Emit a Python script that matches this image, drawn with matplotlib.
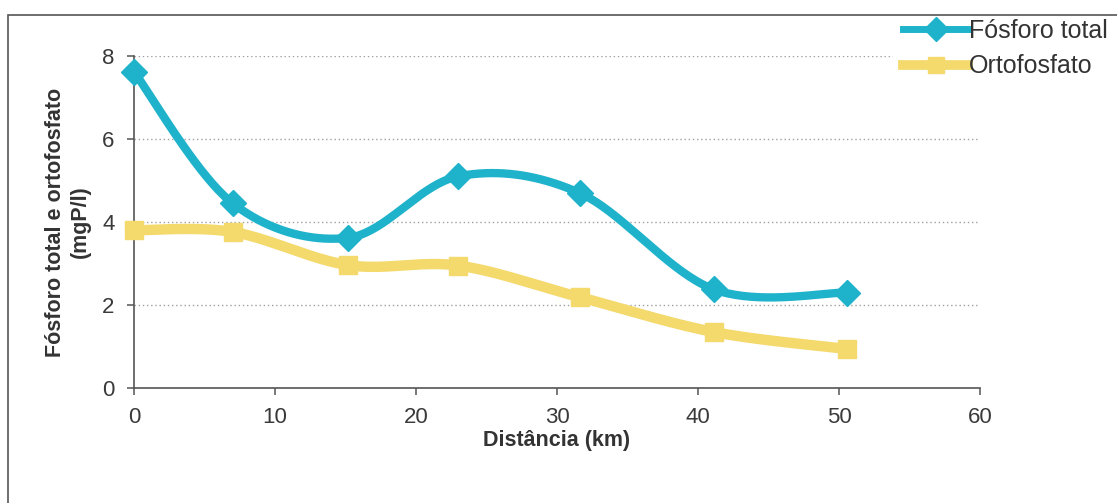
import numpy as np
import matplotlib
matplotlib.use("Agg")
import matplotlib.pyplot as plt
from matplotlib.patches import Rectangle
from matplotlib.lines import Line2D

plt.rcParams['font.family'] = ['Liberation Sans', 'DejaVu Sans']

# Sampling points along the river
distancia_km = [0.0, 7.0, 15.2, 23.0, 31.6, 41.1, 50.6]
fosforo_total = [7.62, 4.45, 3.62, 5.10, 4.70, 2.38, 2.30]
ortofosfato = [3.80, 3.76, 2.96, 2.95, 2.19, 1.35, 0.94]

x_ticks = [0, 10, 20, 30, 40, 50, 60]
y_ticks = [0, 2, 4, 6, 8]

COR_FT = '#1fb3cb'
COR_OF = '#f4d96c'


def smooth_curve(x, y, n=40, tension=1.0 / 6.0):
    """Bezier smoothing through every point (cardinal spline)."""
    x = np.asarray(x, float)
    y = np.asarray(y, float)
    px = np.concatenate([[x[0]], x, [x[-1]]])
    py = np.concatenate([[y[0]], y, [y[-1]]])
    xs, ys = [], []
    t = np.linspace(0, 1, n)
    for i in range(1, len(px) - 2):
        p0 = np.array([px[i], py[i]])
        p3 = np.array([px[i + 1], py[i + 1]])
        p1 = p0 + tension * (np.array([px[i + 1], py[i + 1]]) - np.array([px[i - 1], py[i - 1]]))
        p2 = p3 - tension * (np.array([px[i + 2], py[i + 2]]) - np.array([px[i], py[i]]))
        b = ((1 - t) ** 3)[:, None] * p0 + (3 * (1 - t) ** 2 * t)[:, None] * p1 \
            + (3 * (1 - t) * t ** 2)[:, None] * p2 + (t ** 3)[:, None] * p3
        xs.append(b[:, 0])
        ys.append(b[:, 1])
    return np.concatenate(xs), np.concatenate(ys)


W, H = 1117, 503
fig = plt.figure(figsize=(W / 100, H / 100), dpi=100)
fig.patch.set_facecolor('white')

# Chart frame
fig.add_artist(Rectangle((8 / W, -0.1), 1.2, (H - 15) / H + 0.1,
                         transform=fig.transFigure, fill=False,
                         edgecolor='#555555', linewidth=1.2, zorder=5))

ax = fig.add_axes([134 / W, 1 - 388 / H, (980 - 134) / W, (388 - 56) / H])
ax.set_xlim(0, 60)
ax.set_ylim(0, 8)

for s in ['top', 'right']:
    ax.spines[s].set_visible(False)
for s in ['left', 'bottom']:
    ax.spines[s].set_color('#555555')
    ax.spines[s].set_linewidth(1.2)

ax.set_xticks(x_ticks)
ax.set_yticks(y_ticks)
ax.tick_params(axis='both', direction='out', length=5, width=1.1, color='#555555',
               labelsize=16, labelcolor='#3a3a3a')
ax.tick_params(axis='x', pad=9)
ax.tick_params(axis='y', pad=9)

ax.yaxis.grid(True, linestyle=(0, (1, 2)), color='#a0a0a0', linewidth=1.0)
ax.set_axisbelow(True)

sx, sy = smooth_curve(distancia_km, ortofosfato)
ax.plot(sx, sy, color=COR_OF, linewidth=7.5, solid_capstyle='butt', clip_on=False, zorder=3)
ax.plot(distancia_km, ortofosfato, linestyle='none', marker='s', markersize=13,
        color=COR_OF, clip_on=False, zorder=3)

sx, sy = smooth_curve(distancia_km, fosforo_total)
ax.plot(sx, sy, color=COR_FT, linewidth=6, solid_capstyle='round', clip_on=False, zorder=4)
ax.plot(distancia_km, fosforo_total, linestyle='none', marker='D', markersize=13,
        color=COR_FT, clip_on=False, zorder=4)

ax.set_xlabel('Distância (km)', fontsize=15.5, fontweight='bold', color='#333333', labelpad=1)
ax.set_ylabel('Fósforo total e ortofosfato\n(mgP/l)', fontsize=15.5, fontweight='bold',
              color='#333333', labelpad=8, linespacing=1.25)

# Legend area with its own white background (hides the grid behind it)
fig.add_artist(Rectangle((893 / W, 1 - 88 / H), (W - 893) / W, (88 - 17) / H,
                         transform=fig.transFigure, facecolor='white',
                         edgecolor='none', zorder=2))

handles = [
    Line2D([], [], color=COR_FT, linewidth=5, marker='D', markersize=12),
    Line2D([], [], color=COR_OF, linewidth=7, marker='s', markersize=12),
]
leg = fig.legend(handles, ['Fósforo total', 'Ortofosfato'], loc='upper left',
                 bbox_to_anchor=(893 / W, 1 - 9 / H), frameon=False,
                 fontsize=18, handlelength=2.6, handletextpad=0.05, labelspacing=0.45,
                 labelcolor='#333333', borderaxespad=0)
leg.set_zorder(3)

fig.savefig('out.png', dpi=100, facecolor='white')
